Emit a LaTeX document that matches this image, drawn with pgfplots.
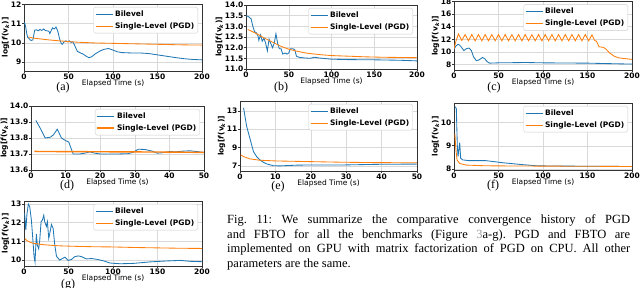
\documentclass[border=0pt]{standalone}
\usepackage{pgfplots}
\pgfplotsset{compat=1.18}
\usepackage{fontspec}
\setmainfont{Liberation Serif}
\newfontfamily\dvs{DejaVu Sans}
\definecolor{mblue}{HTML}{1F77B4}
\definecolor{morange}{HTML}{FF7F0E}
\newcommand{\tf}{\dvs\bfseries\fontsize{7.5}{8}\selectfont}
\newcommand{\lf}{\dvs\fontsize{7.5}{8}\selectfont}
\tikzset{bl/.style={color=mblue, line width=0.85pt}, orl/.style={color=morange, line width=0.85pt}}
\pgfplotsset{mp/.style={
  scale only axis, anchor=north west, xmin=0,
  axis line style={black!80, line width=0.5pt},
  grid=major, major grid style={black!15, line width=0.4pt},
  tick align=outside, tick pos=left, major tick length=1.8pt,
  tick style={black!80, line width=0.5pt},
  ticklabel style={font=\tf, inner sep=0.6pt},
  /pgf/number format/assume math mode=true,
  xlabel={Elapsed Time (s)},
  xlabel style={font=\lf, at={(axis description cs:0.5,0)}, anchor=center, yshift=-12pt, inner sep=0pt},
  ylabel={log[\textit{f}(v\textsubscript{\textit{k}})]},
  ylabel style={font=\tf, inner sep=1pt},
  legend cell align=left,
  legend image code/.code={\draw[##1] (0pt,0pt) -- (17pt,0pt);},
  legend style={font=\tf, at={(1,1)}, anchor=north east, xshift=-4pt, yshift=-3pt,
    draw=black!20, rounded corners=1.5pt, fill=white, inner sep=1.5pt, row sep=0.5pt},
}}
\begin{document}
\frenchspacing
\begin{tikzpicture}
\path[use as bounding box] (0,0) rectangle (640pt,-288pt);
% (a)
\begin{axis}[mp, at={(24pt,-4pt)}, width=178pt, height=67pt, xmax=200, ymin=8.53, ymax=12.02,
  ytick={9,10,11,12}, xtick={0,50,100,150,200}]
\addplot[bl] coordinates {(0,11.05) (1,11.0) (2,10.8) (3,10.5) (4,10.3) (5,10.25) (6,10.2) (7,10.15) (8,10.12) (10,10.15) (11,10.4) (12,10.65) (14,10.68) (16,10.62) (18,10.7) (20,10.64) (22,10.72) (24,10.64) (26,10.62) (28,10.6) (29,10.48) (30,10.58) (32,10.78) (34,10.72) (36,10.82) (38,10.6) (40,10.2) (42,9.95) (43,9.92) (45,10.05) (47,10.1) (49,10.05) (51,10.1) (53,10.02) (55,10.05) (57,9.85) (60,9.55) (63,9.48) (66,9.42) (70,9.3) (73,9.22) (76,9.27) (80,9.42) (85,9.56) (90,9.66) (95,9.7) (100,9.62) (105,9.53) (110,9.49) (120,9.47) (130,9.47) (140,9.44) (150,9.37) (160,9.3) (170,9.23) (180,9.17) (190,9.13) (200,9.11)};
\addplot[orl] coordinates {(5,10.3) (10,10.25) (20,10.19) (30,10.14) (40,10.1) (50,10.06) (60,10.03) (70,10.01) (80,9.99) (100,9.97) (120,9.95) (140,9.93) (160,9.91) (180,9.89) (200,9.88)};
\legend{Bilevel, Single-Level (PGD)}
\end{axis}
% (b)
\begin{axis}[mp, at={(246pt,-5pt)}, width=171pt, height=64pt, xmax=200, ymin=11, ymax=14,
  ytick={11,11.5,12,12.5,13,13.5,14}, xtick={0,50,100,150,200},
  yticklabel style={/pgf/number format/.cd, fixed, fixed zerofill, precision=1}]
\addplot[bl] coordinates {(0,13.5) (3,13.45) (6,13.35) (8,13.0) (10,12.75) (12,12.7) (14,12.55) (15,12.35) (17,12.6) (19,12.3) (21,12.45) (23,12.2) (25,11.85) (27,12.4) (29,12.2) (31,12.0) (33,12.2) (35,12.65) (37,12.2) (39,11.95) (41,11.95) (43,11.7) (46,11.75) (48,11.7) (50,11.75) (52,11.95) (55,11.95) (57,11.9) (59,11.6) (62,11.55) (68,11.52) (75,11.5) (80,11.55) (85,11.52) (90,11.5) (95,11.48) (100,11.46) (120,11.44) (150,11.43) (180,11.41) (200,11.38)};
\addplot[orl] coordinates {(2,12.85) (5,12.8) (10,12.7) (15,12.6) (20,12.48) (25,12.38) (30,12.28) (35,12.18) (40,12.08) (45,12.0) (50,11.93) (55,11.88) (60,11.83) (70,11.75) (80,11.7) (90,11.66) (100,11.63) (120,11.6) (140,11.57) (160,11.55) (180,11.54) (200,11.53)};
\legend{Bilevel, Single-Level (PGD)}
\end{axis}
% (c)
\begin{axis}[mp, at={(454pt,-1.5pt)}, width=178pt, height=68.5pt, xmax=200, ymin=7.11, ymax=18,
  ytick={8,10,12,14,16,18}, xtick={0,50,100,150,200}]
\addplot[bl] coordinates {(0,10.4) (2,10.9) (4.5,11.2) (6,11.1) (8,10.8) (11,10.2) (14,10.5) (17,10.6) (19.5,10.2) (22,9.2) (25,8.6) (28,8.7) (32,9.1) (34.5,8.9) (37.5,8.4) (40,8.2) (50,8.25) (70,8.28) (80,8.3) (100,8.25) (125,8.22) (150,8.2) (175,8.12) (200,8.05)};
\addplot[orl] coordinates {(0,10.5) (2,11.6) (5,12.85) (8.75,11.8) (12.5,12.75) (16.25,11.75) (20,12.75) (23.75,11.75) (27.5,12.75) (31.25,11.75) (35,12.75) (38.75,11.75) (42.5,12.75) (46.25,11.75) (50,12.75) (53.75,11.75) (57.5,12.75) (61.25,11.75) (65,12.75) (68.75,11.75) (72.5,12.75) (76.25,11.75) (80,12.75) (83.75,11.75) (87.5,12.75) (91.25,11.75) (95,12.75) (98.75,11.75) (102.5,12.75) (106.25,11.75) (110,12.75) (113.75,11.75) (117.5,12.75) (121.25,11.75) (125,12.75) (128.75,11.75) (132.5,12.75) (136.25,11.75) (140,12.75) (143.75,11.75) (147.5,12.75) (151.25,11.75) (155,12.7) (158,11.8) (160,11.7) (163,10.8) (168,10.7) (171,10.4) (175,9.8) (180,9.3) (185,9.05) (190,8.95) (200,8.8)};
\legend{Bilevel, Single-Level (PGD)}
\end{axis}
% (d)
\begin{axis}[mp, at={(31pt,-106pt)}, width=173pt, height=64pt, xmax=50, ymin=13.6, ymax=14.0,
  ytick={13.6,13.7,13.8,13.9,14.0}, xtick={0,10,20,30,40,50},
  yticklabel style={/pgf/number format/.cd, fixed, fixed zerofill, precision=1}]
\addplot[bl] coordinates {(1.4,13.91) (2.7,13.86) (4.1,13.80) (5.6,13.805) (6.5,13.82) (7.6,13.855) (8.8,13.80) (9.9,13.785) (10.9,13.775) (11.5,13.74) (12.2,13.70) (14,13.70) (15.5,13.705) (17,13.713) (18.5,13.705) (20,13.70) (25,13.70) (28,13.702) (29.5,13.71) (31,13.73) (33,13.728) (35,13.718) (36.5,13.705) (38,13.708) (40,13.715) (42,13.714) (44,13.718) (46,13.72) (48,13.715) (50,13.71)};
\addplot[orl, line width=1.4pt] coordinates {(1,13.716) (10,13.715) (20,13.714) (30,13.713) (40,13.712) (50,13.71)};
\legend{Bilevel, Single-Level (PGD)}
\end{axis}
% (e)
\begin{axis}[mp, at={(240pt,-101pt)}, width=177pt, height=70pt, xmax=50, ymin=6.42, ymax=14.1,
  ytick={7,9,11,13}, xtick={0,10,20,30,40,50}]
\addplot[bl] coordinates {(1.0,13.35) (1.9,11.28) (2.8,10.0) (3.8,8.55) (4.7,8.0) (5.6,7.64) (6.6,7.38) (7.5,7.2) (9.4,7.0) (11.3,6.98) (16,7.06) (19.7,7.08) (29,7.08) (38.5,7.15) (50,7.18)};
\addplot[orl] coordinates {(0.2,8.2) (1,8.0) (2.8,7.75) (5.6,7.6) (10.3,7.52) (19.7,7.45) (29,7.38) (38.5,7.34) (50,7.32)};
\legend{Bilevel, Single-Level (PGD)}
\end{axis}
% (f)
\begin{axis}[mp, at={(454pt,-103pt)}, width=178pt, height=67pt, xmax=200, ymin=7.96, ymax=10.83,
  ytick={8,9,10}, xtick={0,50,100,150,200}]
\addplot[bl] coordinates {(1.1,10.67) (2.6,10.6) (3.7,9.03) (4.5,8.53) (6.4,9.13) (7.5,8.46) (10,8.39) (17.6,8.36) (36,8.36) (55,8.27) (74,8.2) (92.5,8.14) (111,8.13) (150,8.12) (200,8.11)};
\addplot[orl] coordinates {(1,9.5) (2,8.9) (3.4,8.39) (6.4,8.24) (13.9,8.17) (36,8.14) (74,8.13) (150,8.12) (200,8.11)};
\legend{Bilevel, Single-Level (PGD)}
\end{axis}
% (g)
\begin{axis}[mp, at={(24pt,-201pt)}, width=178pt, height=65pt, xmax=200, ymin=9.68, ymax=13.16,
  ytick={10,11,12,13}, xtick={0,50,100,150,200}]
\addplot[bl] coordinates {(0.7,12.5) (2,11.6) (3.4,12.5) (4.9,13.0) (6.4,12.86) (8.3,12.14) (10,11.07) (11.3,10.18) (12.4,9.9) (13.9,11.4) (15,10.8) (16.5,10.6) (17.7,11.07) (19.2,12.05) (20.7,12.14) (22.2,12.4) (23.3,12.05) (25.2,11.8) (26.3,12.05) (27.8,11.16) (29.7,11.6) (30.8,11.9) (32.7,11.7) (34.6,10.8) (36.5,10.2) (40,10.0) (44,10.1) (46,10.15) (49.6,9.98) (53.4,10.03) (57,10.18) (61,10.22) (64.7,10.18) (70,10.06) (76,10.08) (81.6,10.04) (89,9.96) (96.6,9.84) (108,9.8) (123,9.82) (141.7,9.9) (160.5,9.95) (175.6,9.98) (187,9.93) (200,9.91)};
\addplot[orl] coordinates {(1,11.15) (3,11.05) (6,10.97) (10,10.9) (20,10.83) (30,10.79) (40,10.76) (60,10.73) (80,10.71) (100,10.7) (125,10.67) (150,10.65) (175,10.63) (200,10.62)};
\legend{Bilevel, Single-Level (PGD)}
\end{axis}
% panel labels
\begin{scope}[every node/.style={font=\fontsize{12}{14}\selectfont, inner sep=0pt}]
\node at (63pt,-87.5pt) {(a)};
\node at (281pt,-87.5pt) {(b)};
\node at (494pt,-87.5pt) {(c)};
\node at (67pt,-185.5pt) {(d)};
\node at (278pt,-186.5pt) {(e)};
\node at (493pt,-186pt) {(f)};
\node at (68pt,-285pt) {(g)};
\end{scope}
\node[anchor=north west, text width=403pt, align=justify, inner sep=0pt,
  font=\fontsize{12.5}{14.7}\selectfont] at (227pt,-214.5pt)
  {Fig. 11: We summarize the comparative convergence history of PGD\linebreak
   and FBTO for all the benchmarks (Figure {\color{black!40}3}a-g). PGD and FBTO are\linebreak
   implemented on GPU with matrix factorization of PGD on CPU. All other\linebreak
   parameters are the same.};
\end{tikzpicture}
\end{document}
